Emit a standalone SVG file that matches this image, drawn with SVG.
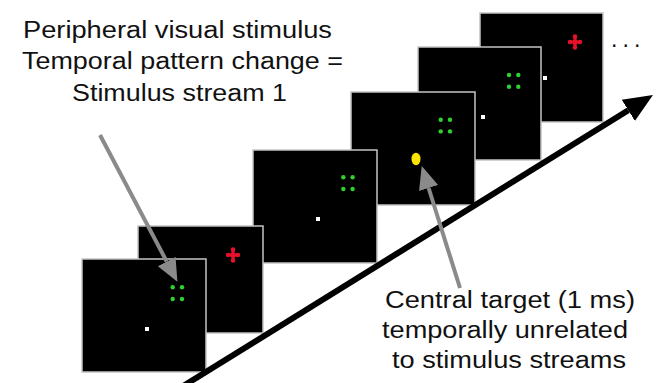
<svg xmlns="http://www.w3.org/2000/svg" width="660" height="383" viewBox="0 0 660 383">
  <defs>
    <style>
      .frame { fill: #000; stroke: #c4c4c4; stroke-width: 1.5; }
      .g { fill: #2ed12e; }
      .r { fill: #e8102a; }
      .w { fill: #fff; }
      .y { fill: #ffe400; }
      .lbl { font-family: "Liberation Sans", Arial, sans-serif; font-size: 23px; fill: #111; }
      .grayline { stroke: #8a8a8a; stroke-width: 4; fill: none; }
      .blackline { stroke: #000; stroke-width: 6; fill: none; }
    </style>
    <marker id="grayHead" markerUnits="userSpaceOnUse" markerWidth="24" markerHeight="22" viewBox="0 -11 24 22" refX="0" refY="0" orient="auto">
      <path d="M0,-10 L23,0 L0,10 z" fill="#8a8a8a"/>
    </marker>
    <marker id="blackHead" markerUnits="userSpaceOnUse" markerWidth="30" markerHeight="28" viewBox="0 -14 30 28" refX="0" refY="0" orient="auto">
      <path d="M0,-12.5 L29,0 L0,12.5 z" fill="#000"/>
    </marker>
    <g id="greenDots">
      <circle class="g" cx="0" cy="0" r="2.2"/>
      <circle class="g" cx="9.3" cy="0" r="2.2"/>
      <circle class="g" cx="0" cy="11.7" r="2.2"/>
      <circle class="g" cx="9.3" cy="11.7" r="2.2"/>
    </g>
    <g id="redCross">
      <rect class="r" x="-5" y="-1.6" width="10" height="3.2"/>
      <rect class="r" x="-1.6" y="-6" width="3.2" height="12"/>
      <circle class="r" cx="0" cy="-5.5" r="2.2"/>
      <circle class="r" cx="0" cy="5.5" r="2.2"/>
      <circle class="r" cx="-5" cy="0" r="2.2"/>
      <circle class="r" cx="5" cy="0" r="2.2"/>
      <circle class="r" cx="0" cy="0" r="2.6"/>
    </g>
  </defs>

  <rect width="660" height="383" fill="#fff"/>

  <!-- frames, back to front -->
  <g id="frame6">
    <rect class="frame" x="480" y="13" width="123" height="109"/>
    <use href="#redCross" x="575" y="42"/>
    <rect class="w" x="543" y="76" width="4" height="4"/>
  </g>
  <g id="frame5">
    <rect class="frame" x="418" y="47" width="123" height="113"/>
    <use href="#greenDots" x="509" y="75"/>
    <rect class="w" x="481" y="115" width="4" height="4"/>
  </g>
  <g id="frame4">
    <rect class="frame" x="351" y="92" width="124" height="113"/>
    <use href="#greenDots" x="440.7" y="119.7"/>
    <ellipse class="y" cx="416" cy="159" rx="4.5" ry="6.2"/>
  </g>
  <g id="frame3">
    <rect class="frame" x="253" y="150" width="124" height="113"/>
    <use href="#greenDots" x="343.3" y="177.3"/>
    <rect class="w" x="316" y="217" width="4" height="4"/>
  </g>
  <g id="frame2">
    <rect class="frame" x="138" y="226" width="125" height="107"/>
    <use href="#redCross" x="233" y="255"/>
  </g>
  <g id="frame1">
    <rect class="frame" x="82" y="259" width="124" height="113"/>
    <use href="#greenDots" x="172.7" y="287.3"/>
    <rect class="w" x="145" y="327" width="4" height="4"/>
  </g>

  <g id="connectors">
    <line class="blackline" x1="180" y1="388" x2="628.3" y2="110.3" marker-end="url(#blackHead)"/>
    <line class="grayline" x1="100" y1="135" x2="166.7" y2="261.5" marker-end="url(#grayHead)"/>
    <line class="grayline" x1="460" y1="288" x2="428.6" y2="188" marker-end="url(#grayHead)"/>
  </g>

  <g id="label-peripheral">
    <text class="lbl" x="23" y="38" textLength="309" lengthAdjust="spacingAndGlyphs">Peripheral visual stimulus</text>
    <text class="lbl" x="22" y="69" textLength="321" lengthAdjust="spacingAndGlyphs">Temporal pattern change =</text>
    <text class="lbl" x="72" y="101" textLength="215" lengthAdjust="spacingAndGlyphs">Stimulus stream 1</text>
  </g>
  <g id="label-central">
    <text class="lbl" x="385" y="308" textLength="250" lengthAdjust="spacingAndGlyphs">Central target (1 ms)</text>
    <text class="lbl" x="382" y="338" textLength="246" lengthAdjust="spacingAndGlyphs">temporally unrelated</text>
    <text class="lbl" x="392" y="368" textLength="234" lengthAdjust="spacingAndGlyphs">to stimulus streams</text>
  </g>
  <g id="ellipsis">
    <text class="lbl" x="611 622.5 634" y="47" fill="#333">...</text>
  </g>
</svg>
